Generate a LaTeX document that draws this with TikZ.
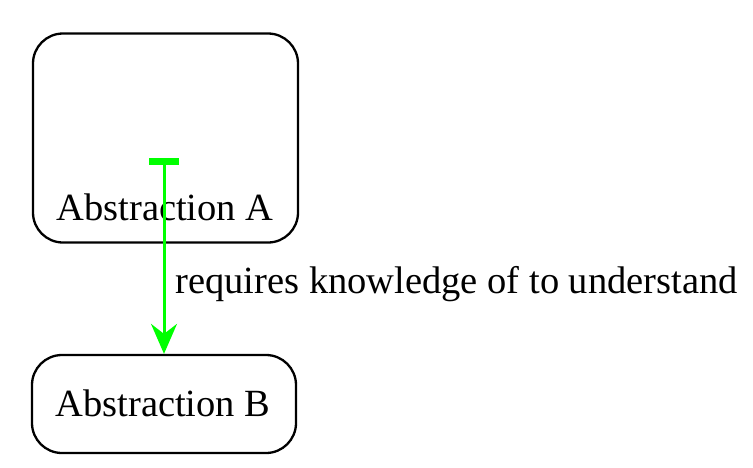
\documentclass[tikz,border=0pt]{standalone}
\usepackage{fontspec}
\setmainfont{Liberation Serif}
\usepackage{tikz}
\usetikzlibrary{arrows.meta}

\begin{document}
\begin{tikzpicture}[x=1pt, y=-1pt]
\tikzstyle{block}=[draw, line width=2.3pt, rounded corners=30pt, inner sep=0pt]
\tikzstyle{lbl}=[font=\fontsize{38.5}{44}\selectfont, inner sep=0pt, text=black]
\definecolor{needgreen}{RGB}{0,255,0}
\tikzstyle{needs}=[color=needgreen, line width=3pt]

\useasboundingbox (0,0) rectangle (753,467);

\node[block, minimum width=265pt, minimum height=209pt] (absA) at (165.5,138) {};
\node[lbl, anchor=base] (txtA) at (165,220) {Abstraction A};
\node[block, minimum width=264pt, minimum height=98pt] (absB) at (164,404) {};
\node[lbl, anchor=base] (txtB) at (163,416) {Abstraction B};
\coordinate (tailA) at (164,161);

\draw[needs, -{Stealth[length=30pt, width=26pt, inset=10pt, line width=2pt]}]
(tailA) -- node[lbl, pos=0.64, anchor=west, xshift=10pt] (req) {requires knowledge of to understand} (absB.north);
\draw[needs, line width=7pt] ([xshift=-15pt]tailA) -- ([xshift=15pt]tailA);

\end{tikzpicture}
\end{document}
